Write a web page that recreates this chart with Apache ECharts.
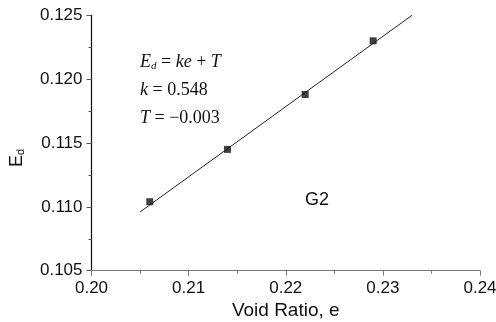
<!DOCTYPE html>
<html>
<head>
<meta charset="utf-8">
<script src="https://cdn.jsdelivr.net/npm/echarts@6/dist/echarts.min.js"></script>
<style>
  html, body { margin: 0; padding: 0; background: #fff; }
  #chart { width: 496px; height: 322px; }
</style>
</head>
<body>
<div id="chart"></div>
<script>
// measured points (void ratio e, Ed)
const voidRatio = [0.206, 0.214, 0.222, 0.229]
const edValues = [0.1104, 0.1145, 0.1188, 0.1230]
// fitted line ends as drawn
const fitE = [0.205, 0.233]
const fitEd = [0.1096, 0.1250]

const xTicks = ['0.20', '0.21', '0.22', '0.23', '0.24']
const yTicks = ['0.105', '0.110', '0.115', '0.120', '0.125']

const sans = 'Liberation Sans, Arial, sans-serif'
const serif = 'Liberation Serif, Times New Roman, serif'

const chart = echarts.init(document.getElementById('chart'))

chart.setOption({
  animation: false,
  grid: { left: 91.5, right: 16, top: 15.3, bottom: 51.3, containLabel: false, outerBoundsMode: 'none' },
  xAxis: {
    type: 'value',
    min: 0.20,
    max: 0.24,
    interval: 0.01,
    name: 'Void Ratio, e',
    nameLocation: 'middle',
    nameGap: 31,
    nameTextStyle: { fontFamily: sans, fontSize: 19, color: '#111' },
    axisLine: { lineStyle: { color: '#777', width: 1.2 } },
    axisTick: { inside: false, length: 5, lineStyle: { color: '#777' } },
    minorTick: { show: true, splitNumber: 2, length: 3, lineStyle: { color: '#777' } },
    splitLine: { show: false },
    axisLabel: {
      fontFamily: sans, fontSize: 17, color: '#111', margin: 9,
      formatter: (v) => xTicks[Math.round((v - 0.20) / 0.01)] || ''
    }
  },
  yAxis: {
    type: 'value',
    min: 0.105,
    max: 0.125,
    interval: 0.005,
    axisLine: { show: true, lineStyle: { color: '#111', width: 1.2 } },
    axisTick: { show: true, inside: false, length: 5, lineStyle: { color: '#555' } },
    minorTick: { show: true, splitNumber: 2, length: 3, lineStyle: { color: '#555' } },
    splitLine: { show: false },
    axisLabel: {
      fontFamily: sans, fontSize: 17, color: '#111', margin: 9,
      formatter: (v) => yTicks[Math.round((v - 0.105) / 0.005)] || ''
    }
  },
  graphic: [
    {
      type: 'text',
      x: 17, y: 158,
      rotation: Math.PI / 2,
      style: {
        text: '{e|E}{d|d}',
        align: 'center',
        verticalAlign: 'middle',
        rich: {
          e: { fontFamily: sans, fontSize: 18, fill: '#111' },
          d: { fontFamily: sans, fontSize: 11, fill: '#111', padding: [8, 0, 0, 0] }
        }
      }
    },
    {
      type: 'text',
      x: 140, y: 62,
      style: {
        text: '{i|E}{s|d}{n| = }{i|ke}{n| + }{i|T}',
        verticalAlign: 'middle',
        rich: {
          i: { fontFamily: serif, fontStyle: 'italic', fontSize: 18, fill: '#111' },
          s: { fontFamily: serif, fontStyle: 'italic', fontSize: 11, fill: '#111', padding: [8, 0, 0, 0] },
          n: { fontFamily: serif, fontSize: 18, fill: '#111' }
        }
      }
    },
    {
      type: 'text',
      x: 140, y: 90,
      style: {
        text: '{i|k}{n| = 0.548}',
        verticalAlign: 'middle',
        rich: {
          i: { fontFamily: serif, fontStyle: 'italic', fontSize: 18, fill: '#111' },
          n: { fontFamily: serif, fontSize: 18, fill: '#111' }
        }
      }
    },
    {
      type: 'text',
      x: 140, y: 118,
      style: {
        text: '{i|T}{n| = \u22120.003}',
        verticalAlign: 'middle',
        rich: {
          i: { fontFamily: serif, fontStyle: 'italic', fontSize: 18, fill: '#111' },
          n: { fontFamily: serif, fontSize: 18, fill: '#111' }
        }
      }
    },
    {
      type: 'text',
      x: 317, y: 200,
      style: {
        text: 'G2',
        align: 'center',
        verticalAlign: 'middle',
        fontFamily: sans,
        fontSize: 18,
        fill: '#111'
      }
    }
  ],
  series: [
    {
      type: 'line',
      data: fitE.map((e, i) => [e, fitEd[i]]),
      symbol: 'none',
      lineStyle: { color: '#222', width: 1 },
      z: 1
    },
    {
      type: 'scatter',
      data: voidRatio.map((e, i) => [e, edValues[i]]),
      symbol: 'rect',
      symbolSize: 7,
      itemStyle: { color: '#111' },
      z: 2
    }
  ]
})
</script>
</body>
</html>
